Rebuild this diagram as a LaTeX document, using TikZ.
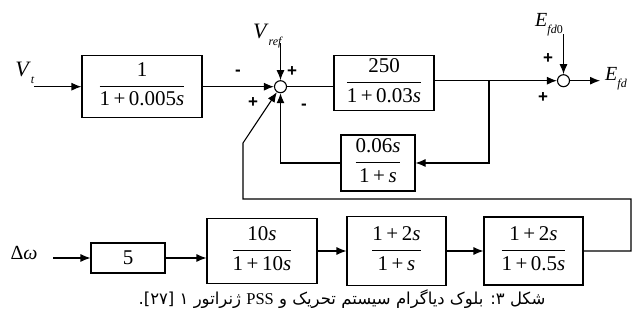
\documentclass[tikz,border=0pt]{standalone}
\usepackage{amsmath}
\usepackage{fontspec}
\setmainfont{Liberation Serif}
\newfontfamily\signfont{Liberation Sans}
\newfontfamily\arabicfont[Script=Arabic]{DejaVu Sans}
\TeXXeTstate=1
\usetikzlibrary{positioning,arrows.meta}
\newcommand{\tf}[2]{$\dfrac{\strut\text{#1}}{\strut\text{#2}}$}
\newcommand{\sig}[2]{\textit{#1}\raisebox{-7pt}{\fontsize{12}{12}\selectfont\textit{#2}}}

\begin{document}
\begin{tikzpicture}[x=1pt, y=-1pt, line width=1.1pt, font=\fontsize{21}{23}\selectfont, blk/.style={draw, inner sep=0pt}, sumj/.style={draw, circle, fill=white, minimum size=12pt, inner sep=0pt}, arr/.style={-{Latex[length=10pt,width=8pt]}}, sgn/.style={font=\signfont\bfseries\fontsize{17}{17}\selectfont, inner sep=0pt}, lbl/.style={font=\fontsize{22}{23}\selectfont, inner sep=0pt}]
\useasboundingbox (0,0) rectangle (635,320);
\node[blk, minimum width=120pt, minimum height=62pt] (lowpass) at (142,86.7) {\tf{1}{1\,+\,0.005\textit{s}}};
\node[sumj] (sum1) at (280.5,86.7) {};
\node[blk, minimum width=100pt, minimum height=55pt] (gain) at (384,83) {\tf{250}{1\,+\,0.03\textit{s}}};
\node[sumj] (sum2) at (563.5,80.7) {};
\node[blk, minimum width=74pt, minimum height=56pt] (stab) at (378,163) {\tf{0.06\textit{s}}{1\,+\,\textit{s}}};
\node[blk, minimum width=74pt, minimum height=30pt] (kpss) at (128,258) {5};
\node[blk, minimum width=110pt, minimum height=65pt] (washout) at (262,251) {\tf{10\textit{s}}{1\,+\,10\textit{s}}};
\node[blk, minimum width=99pt, minimum height=69pt] (lead1) at (396.5,251) {\tf{1\,+\,2\textit{s}}{1\,+\,\textit{s}}};
\node[blk, minimum width=99pt, minimum height=68pt] (lead2) at (533.5,251) {\tf{1\,+\,2\textit{s}}{1\,+\,0.5\textit{s}}};

\node[lbl] (vt) at (25,73) {\sig{V}{t}};
\node[lbl] (vref) at (268,36) {\sig{V}{ref}};
\node[lbl, font=\fontsize{20}{21}\selectfont] (efdz) at (549,25) {\sig{E}{fd}\raisebox{-7pt}{\fontsize{12}{12}\selectfont 0}};
\node[lbl, font=\fontsize{20}{21}\selectfont] (efd) at (616,79) {\sig{E}{fd}};
\node[lbl, font=\fontsize{20}{21}\selectfont] (dw) at (24,253) {\textup{Δ}\textit{ω}};

\coordinate (vtin) at (34,86.7);
\coordinate[above=37pt of sum1] (vrefin);
\coordinate[above=40pt of sum2] (efdzin);
\coordinate[right=30pt of sum2] (efdout);
\coordinate (dwin) at (53,258);
\coordinate (branch) at (489,80.7);
\coordinate (loopa) at (631,199);
\coordinate (loopb) at (243,143);

\node[sgn] (m1) at (238,73) {-};
\node[sgn] (p1) at (292,72) {+};
\node[sgn] (p2) at (253,103) {+};
\node[sgn] (m2) at (304,107) {-};
\node[sgn] (p3) at (548,59) {+};
\node[sgn] (p4) at (543,98) {+};

\draw[arr] (vtin) -- (lowpass);
\draw[arr] (lowpass) -- (sum1);
\draw[arr] (vrefin) -- (sum1);
\draw (sum1) -- (sum1 -| gain.west);
\draw[arr] (gain.east |- sum2) -- (sum2);
\draw[arr] (efdzin) -- (sum2);
\draw[arr] (sum2) -- (efdout);
\draw[arr] (branch) |- (stab.east);
\draw[arr] (stab.west) -| (sum1.south);
\draw[arr] (dwin) -- (dwin -| kpss.west);
\draw[arr] (kpss.east) -- (kpss.east -| washout.west);
\draw[arr] (washout) -- (lead1);
\draw[arr] (lead1) -- (lead2);
\draw[arr] (lead2.east) -| (loopa) -| (loopb) -- (sum1);

\node[font=\arabicfont\fontsize{16.5}{19}\selectfont] (caption) at (342,299) {\beginR شکل ۳:  بلوک دیاگرام سیستم تحریک و \beginL{\rmfamily PSS}\endL{} ژنراتور ۱ \beginL[۲۷]\endL.\endR};
\end{tikzpicture}
\end{document}
